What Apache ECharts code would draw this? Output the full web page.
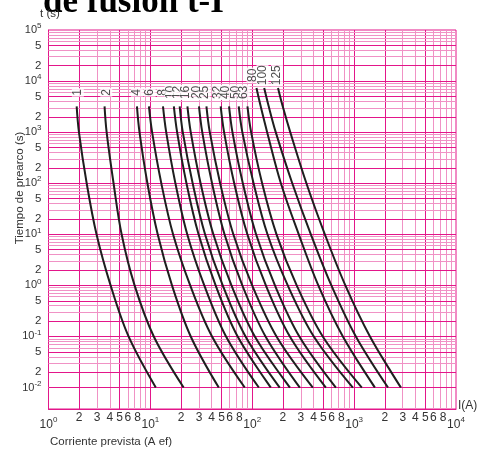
<!DOCTYPE html>
<html><head><meta charset="utf-8">
<script src="https://cdn.jsdelivr.net/npm/echarts@6/dist/echarts.min.js"></script>
<style>html,body{margin:0;padding:0;background:#fff}#c{width:487px;height:452px}</style>
</head><body><div id="c"></div>
<script>
// ---- data ----
const fuseRatings = ['1','2','4','6','8','10','12','16','20','25','32','40','50','63','80','100','125'];
// pre-arcing times (s) at which currents were read
const timesStd  = [3200, 1000, 100, 10, 1, 0.1, 0.01];
const timesLong = [7300, 3200, 1000, 100, 10, 1, 0.1, 0.01];
// prospective currents (A) for each fuse rating
const current_1   = [1.89, 1.99, 2.37, 2.96, 4.07, 6.11, 11.3];
const current_2   = [3.55, 3.72, 4.35, 5.22, 7.00, 10.8, 21.2];
const current_4   = [7.38, 7.82, 9.35, 11.8, 16.3, 24.9, 46.9];
const current_6   = [9.68, 10.4, 12.8, 16.7, 24.6, 40.3, 84.4];
const current_8   = [13.3, 14.3, 17.6, 23.0, 33.8, 55.3, 116];
const current_10  = [17.0, 18.3, 22.6, 29.7, 43.7, 71.9, 152];
const current_12  = [19.4, 20.8, 26.0, 34.4, 51.3, 85.9, 186];
const current_16  = [23.1, 24.9, 31.1, 41.5, 62.5, 106, 234];
const current_20  = [30.0, 32.3, 40.3, 53.4, 79.9, 135, 293];
const current_25  = [35.5, 38.3, 48.4, 65.2, 99.8, 173, 393];
const current_32  = [49.0, 52.9, 66.5, 89.5, 136, 234, 528];
const current_40  = [59.2, 63.9, 80.8, 109, 167, 290, 662];
const current_50  = [73.7, 79.9, 103, 141, 223, 402, 972];
const current_63  = [89.7, 97.5, 125, 173, 273, 492, 1190];
const current_80  = [110, 121, 140, 191, 286, 445, 775, 1600];
const current_100 = [131, 145, 170, 247, 376, 598, 1040, 2150];
const current_125 = [179, 199, 236, 340, 516, 820, 1430, 2880];
// curve label anchor positions (current A, time s)
const labelCurrent = [1.94, 3.69, 7.38, 9.83, 13.3, 15.8, 18.5, 22.2, 28.5, 34.1, 45.8, 54.9, 68.8, 82.5, 100.5, 126, 175];
const labelTime    = [6000, 6000, 6000, 6000, 6000, 6000, 6000, 6000, 6000, 6000, 6000, 6000, 6000, 6000, 13000, 13000, 13000];
// tick labels
const xTickDigits  = [2,3,4,5,6,8, 20,30,40,50,60,80, 200,300,400,500,600,800, 2000,3000,4000,5000,6000,8000];
const xTickDecades = [1, 10, 100, 1000, 10000];
const yTicks = [0.01,0.02,0.05, 0.1,0.2,0.5, 1,2,5, 10,20,50, 100,200,500, 1000,2000,5000, 10000,20000,50000, 100000];

const currents = [current_1,current_2,current_4,current_6,current_8,current_10,current_12,current_16,
  current_20,current_25,current_32,current_40,current_50,current_63,current_80,current_100,current_125];

// ---- chart ----
const DARK = '#e3168a', LIGHT = '#f092c5';
const TXT = '#333';
const FONT = '"Liberation Sans", Arial, sans-serif';

const gridLines = [];
for (let e = 0; e <= 3; e++) for (let k = 1; k <= 9; k++) {
  const v = k * Math.pow(10, e);
  gridLines.push({xAxis: v, lineStyle: {color: (k===1||k===2||k===5) ? DARK : LIGHT, width: 1, type: 'solid'}});
}
for (let e = -3; e <= 4; e++) for (let k = 1; k <= 9; k++) {
  const v = k * Math.pow(10, e);
  if (v < 0.004) continue;
  gridLines.push({yAxis: v, lineStyle: {color: (k===1||k===2||k===5) ? DARK : LIGHT, width: 1, type: 'solid'}});
}

function decomp(v) {
  const e = Math.floor(Math.log10(v) + 1e-9);
  const m = Math.round(v / Math.pow(10, e));
  return {e, m};
}

const series = [{
  type: 'line', data: [[1, 1]], showSymbol: false, lineStyle: {opacity: 0}, silent: true, z: 1,
  markLine: {silent: true, symbol: ['none','none'], label: {show: false}, animation: false, data: gridLines}
}];
currents.forEach((cur, i) => {
  const times = cur.length === timesLong.length ? timesLong : timesStd;
  series.push({
    type: 'line', name: fuseRatings[i], data: cur.map((c, j) => [c, times[j]]),
    smooth: 0.35, showSymbol: false, z: 5,
    lineStyle: {color: '#1e1e1e', width: 2}
  });
});
series.push({
  type: 'scatter', symbolSize: 0, z: 10,
  data: fuseRatings.map((r, i) => [labelCurrent[i], labelTime[i], r]),
  label: {show: true, position: 'inside', formatter: p => p.data[2], rotate: 90,
    fontSize: 12, fontFamily: FONT, color: '#222', backgroundColor: '#fff', padding: [0, 1]}
});

const richX = {
  b: {fontSize: 12, fontFamily: FONT, color: TXT, lineHeight: 17},
  s: {fontSize: 8, fontFamily: FONT, color: TXT, lineHeight: 7, verticalAlign: 'top'}
};
const richY = {
  b: {fontSize: 11, fontFamily: FONT, color: TXT, lineHeight: 16},
  s: {fontSize: 8, fontFamily: FONT, color: TXT, lineHeight: 7, verticalAlign: 'top'},
  n: {fontSize: 11.5, fontFamily: FONT, color: TXT, lineHeight: 16}
};

const option = {
  animation: false,
  backgroundColor: '#fff',
  grid: {left: 48.5, right: 31, top: 30, bottom: 43, show: true, borderColor: DARK, borderWidth: 1, containLabel: false},
  xAxis: [{
    type: 'log', logBase: 10, min: 1, max: 10000, position: 'bottom',
    axisLine: {show: true, lineStyle: {color: DARK}}, axisTick: {show: false}, splitLine: {show: false},
    axisLabel: {customValues: xTickDigits, margin: 3, fontSize: 12, fontFamily: FONT, color: TXT,
      formatter: v => { const d = decomp(v); return d.m === 8 ? '{e|8}' : String(d.m); },
      rich: {e: {fontSize: 12, fontFamily: FONT, color: TXT, padding: [0, 6, 0, 0]}}}
  }, {
    type: 'log', logBase: 10, min: 1, max: 10000, position: 'bottom',
    axisLine: {show: false}, axisTick: {show: false}, splitLine: {show: false},
    axisLabel: {customValues: xTickDecades, margin: 7,
      formatter: v => '{b|10}{s|' + decomp(v).e + '}', rich: richX}
  }],
  yAxis: {
    type: 'log', logBase: 10, min: 0.0038, max: 100000,
    axisLine: {show: true, lineStyle: {color: DARK}}, axisTick: {show: false}, splitLine: {show: false},
    axisLabel: {customValues: yTicks, margin: 7,
      formatter: v => { const d = decomp(v); return d.m === 1 ? '{b|10}{s|' + d.e + '}' : '{n|' + d.m + '}'; },
      rich: richY}
  },
  graphic: [
    {type: 'text', z: 1, x: 43, y: 3, style: {text: 'de fusión t-I', font: 'bold 35px "Liberation Serif", "Times New Roman", serif', fill: '#000', align: 'left', verticalAlign: 'middle'}},
    {type: 'text', z: 5, x: 40, y: 14, style: {text: 't (s)', font: '11.5px ' + FONT, fill: TXT, align: 'left', verticalAlign: 'middle'}},
    {type: 'text', x: 20, y: 188, rotation: Math.PI / 2, style: {text: 'Tiempo de prearco (s)', font: '11.5px ' + FONT, fill: TXT, align: 'center', verticalAlign: 'middle'}},
    {type: 'text', x: 50, y: 442, style: {text: 'Corriente prevista (A ef)', font: '11.5px ' + FONT, fill: TXT, align: 'left', verticalAlign: 'middle'}},
    {type: 'text', x: 458, y: 406, style: {text: 'I(A)', font: '12px ' + FONT, fill: TXT, align: 'left', verticalAlign: 'middle'}}
  ],
  series
};
const chart = echarts.init(document.getElementById('c'), null, {renderer: 'canvas'});
chart.setOption(option);
</script>
</body></html>
